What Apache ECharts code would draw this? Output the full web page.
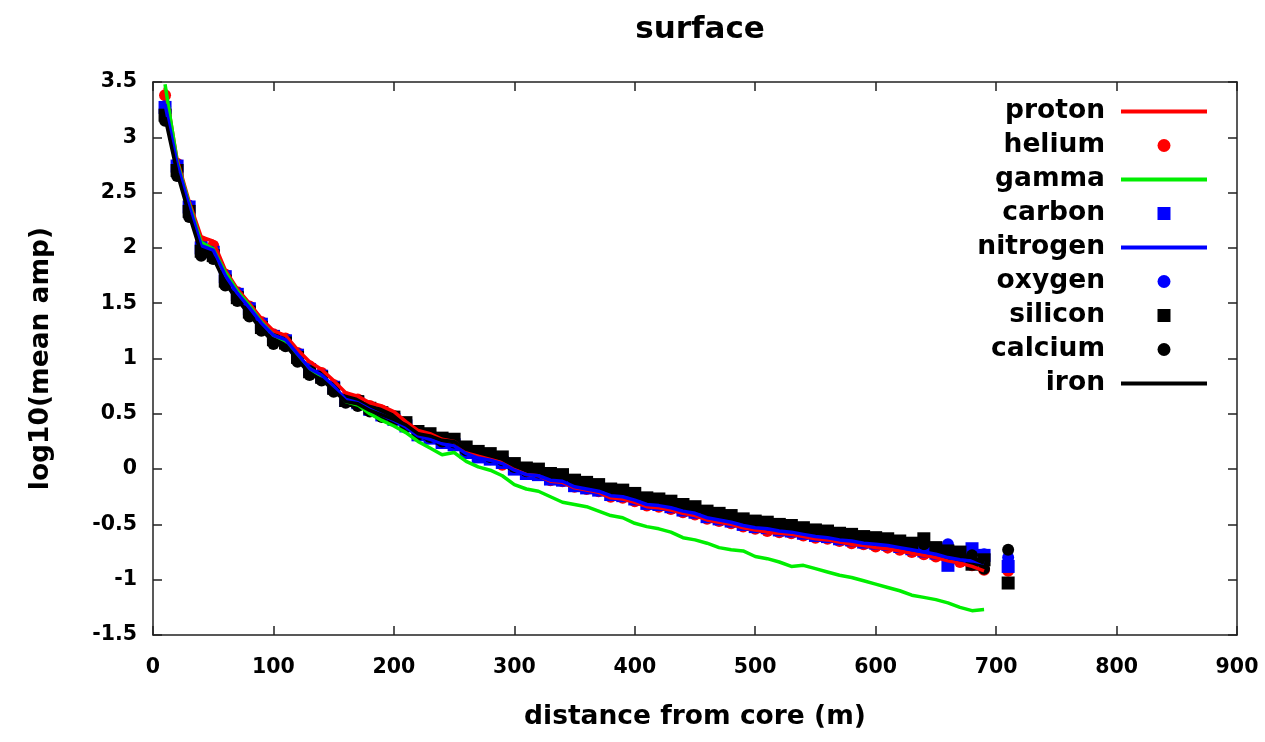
<!DOCTYPE html>
<html>
<head>
<meta charset="utf-8">
<script src="https://cdn.jsdelivr.net/npm/echarts@6/dist/echarts.min.js"></script>
<style>
  html, body { margin: 0; padding: 0; background: #fff; }
  #chart { width: 1265px; height: 742px; }
</style>
</head>
<body>
<div id="chart"></div>
<script>
// distance from core (m); 700 has no value
const distances = [10, 20, 30, 40, 50, 60, 70, 80, 90, 100, 110, 120, 130, 140, 150, 160, 170, 180, 190, 200,
  210, 220, 230, 240, 250, 260, 270, 280, 290, 300, 310, 320, 330, 340, 350, 360, 370, 380, 390, 400,
  410, 420, 430, 440, 450, 460, 470, 480, 490, 500, 510, 520, 530, 540, 550, 560, 570, 580, 590, 600,
  610, 620, 630, 640, 650, 660, 670, 680, 690, 700, 710];

const proton = [3.45, 2.80, 2.42, 2.10, 2.06, 1.80, 1.63, 1.50, 1.36, 1.25, 1.21, 1.08, 0.97, 0.90, 0.80, 0.69, 0.66, 0.60, 0.57, 0.52,
  0.43, 0.35, 0.32, 0.27, 0.25, 0.17, 0.12, 0.10, 0.06, 0.00, -0.05, -0.06, -0.11, -0.12, -0.17, -0.19, -0.21, -0.26, -0.27, -0.30,
  -0.34, -0.35, -0.37, -0.40, -0.42, -0.46, -0.48, -0.50, -0.53, -0.55, -0.57, -0.58, -0.59, -0.61, -0.63, -0.64, -0.66, -0.68, -0.69, -0.71,
  -0.72, -0.74, -0.76, -0.78, -0.80, -0.83, -0.85, -0.88, -0.92, null, null];

const helium = [3.38, 2.76, 2.38, 2.06, 2.02, 1.76, 1.60, 1.47, 1.33, 1.22, 1.18, 1.05, 0.93, 0.87, 0.76, 0.65, 0.63, 0.57, 0.53, 0.48,
  0.41, 0.33, 0.30, 0.25, 0.23, 0.15, 0.11, 0.09, 0.04, 0.01, -0.04, -0.05, -0.10, -0.11, -0.16, -0.18, -0.20, -0.25, -0.26, -0.29,
  -0.33, -0.34, -0.36, -0.39, -0.41, -0.45, -0.47, -0.49, -0.52, -0.54, -0.56, -0.57, -0.58, -0.60, -0.62, -0.63, -0.65, -0.67, -0.68, -0.70,
  -0.71, -0.73, -0.75, -0.77, -0.79, -0.82, -0.84, -0.87, -0.91, null, -0.92];

const gamma = [3.48, 2.78, 2.40, 2.05, 1.99, 1.78, 1.61, 1.48, 1.33, 1.21, 1.16, 1.03, 0.91, 0.84, 0.73, 0.61, 0.58, 0.50, 0.44, 0.39,
  0.33, 0.25, 0.19, 0.13, 0.15, 0.07, 0.02, -0.01, -0.06, -0.14, -0.18, -0.20, -0.25, -0.30, -0.32, -0.34, -0.38, -0.42, -0.44, -0.49,
  -0.52, -0.54, -0.57, -0.62, -0.64, -0.67, -0.71, -0.73, -0.74, -0.79, -0.81, -0.84, -0.88, -0.87, -0.90, -0.93, -0.96, -0.98, -1.01, -1.04,
  -1.07, -1.10, -1.14, -1.16, -1.18, -1.21, -1.25, -1.28, -1.27, null, null];

const carbon = [3.27, 2.74, 2.37, 2.00, 1.96, 1.74, 1.58, 1.45, 1.31, 1.20, 1.16, 1.03, 0.90, 0.84, 0.74, 0.62, 0.60, 0.54, 0.49, 0.45,
  0.39, 0.31, 0.28, 0.24, 0.22, 0.15, 0.11, 0.09, 0.06, 0.00, -0.04, -0.05, -0.09, -0.10, -0.15, -0.17, -0.19, -0.23, -0.24, -0.27,
  -0.31, -0.32, -0.34, -0.37, -0.39, -0.43, -0.45, -0.47, -0.50, -0.52, -0.53, -0.55, -0.56, -0.58, -0.60, -0.61, -0.63, -0.64, -0.66, -0.67,
  -0.68, -0.70, -0.72, -0.74, -0.76, -0.87, -0.80, -0.72, -0.78, null, -0.88];

const nitrogen = [3.30, 2.76, 2.38, 2.02, 1.98, 1.75, 1.59, 1.46, 1.32, 1.21, 1.17, 1.04, 0.91, 0.85, 0.75, 0.63, 0.60, 0.54, 0.49, 0.44,
  0.38, 0.30, 0.27, 0.23, 0.21, 0.14, 0.10, 0.08, 0.05, -0.01, -0.05, -0.06, -0.10, -0.11, -0.16, -0.18, -0.20, -0.24, -0.25, -0.28,
  -0.32, -0.33, -0.35, -0.38, -0.40, -0.44, -0.46, -0.48, -0.51, -0.53, -0.54, -0.56, -0.57, -0.59, -0.61, -0.62, -0.64, -0.65, -0.67, -0.68,
  -0.69, -0.71, -0.73, -0.75, -0.77, -0.80, -0.82, -0.83, -0.85, null, null];

const oxygen = [3.28, 2.75, 2.38, 2.01, 1.96, 1.74, 1.59, 1.46, 1.31, 1.21, 1.16, 1.04, 0.90, 0.85, 0.75, 0.63, 0.61, 0.55, 0.50, 0.45,
  0.40, 0.32, 0.29, 0.25, 0.23, 0.16, 0.12, 0.10, 0.06, 0.01, -0.03, -0.04, -0.08, -0.09, -0.14, -0.16, -0.18, -0.22, -0.23, -0.26,
  -0.30, -0.31, -0.33, -0.36, -0.38, -0.42, -0.44, -0.46, -0.49, -0.51, -0.52, -0.54, -0.55, -0.57, -0.59, -0.60, -0.62, -0.63, -0.65, -0.66,
  -0.67, -0.69, -0.71, -0.72, -0.75, -0.68, -0.80, -0.76, -0.77, null, -0.80];

const silicon = [3.20, 2.70, 2.33, 1.97, 1.93, 1.70, 1.55, 1.42, 1.28, 1.17, 1.14, 1.01, 0.88, 0.83, 0.73, 0.62, 0.61, 0.55, 0.51, 0.47,
  0.42, 0.34, 0.32, 0.28, 0.27, 0.20, 0.16, 0.14, 0.11, 0.05, 0.01, 0.00, -0.04, -0.05, -0.10, -0.12, -0.14, -0.18, -0.19, -0.22,
  -0.26, -0.27, -0.29, -0.32, -0.34, -0.38, -0.40, -0.42, -0.45, -0.47, -0.48, -0.50, -0.51, -0.53, -0.55, -0.56, -0.58, -0.59, -0.61, -0.62,
  -0.63, -0.65, -0.67, -0.63, -0.71, -0.74, -0.75, -0.86, -0.82, null, -1.03];

const calcium = [3.15, 2.65, 2.28, 1.93, 1.90, 1.66, 1.52, 1.38, 1.25, 1.13, 1.11, 0.97, 0.85, 0.80, 0.70, 0.60, 0.57, 0.52, 0.47, 0.44,
  0.38, 0.31, 0.29, 0.25, 0.24, 0.17, 0.14, 0.11, 0.08, 0.02, -0.02, -0.03, -0.06, -0.08, -0.12, -0.14, -0.16, -0.20, -0.21, -0.24,
  -0.27, -0.29, -0.31, -0.34, -0.36, -0.39, -0.41, -0.44, -0.46, -0.48, -0.50, -0.52, -0.53, -0.55, -0.56, -0.58, -0.60, -0.61, -0.63, -0.64,
  -0.65, -0.67, -0.69, -0.68, -0.73, -0.77, -0.80, -0.78, -0.90, null, -0.73];

const iron = [3.18, 2.68, 2.30, 1.95, 1.91, 1.68, 1.53, 1.40, 1.26, 1.15, 1.12, 0.99, 0.86, 0.81, 0.71, 0.61, 0.59, 0.53, 0.49, 0.45,
  0.40, 0.32, 0.30, 0.26, 0.25, 0.18, 0.15, 0.12, 0.09, 0.03, -0.01, -0.02, -0.05, -0.07, -0.11, -0.13, -0.15, -0.19, -0.20, -0.23,
  -0.27, -0.28, -0.30, -0.33, -0.35, -0.39, -0.41, -0.43, -0.46, -0.48, -0.49, -0.51, -0.52, -0.54, -0.56, -0.57, -0.59, -0.60, -0.62, -0.63,
  -0.64, -0.66, -0.68, -0.66, -0.72, -0.76, -0.78, -0.80, -0.85, null, null];

const font = 'DejaVu Sans';
const pairs = arr => distances.map((d, i) => [d, arr[i]]);

// legend icons (keep aspect inside the 86x13 item box)
const iconLine = 'path://M0,0L86,0L86,4L0,4Z';
const iconSquare = 'path://M0,0L13,0L13,13L0,13Z';
const iconCircle = 'path://M0,6.5A6.5,6.5,0,1,0,13,6.5A6.5,6.5,0,1,0,0,6.5Z';

const lineSeries = (name, arr, color) => ({
  name: name,
  type: 'line',
  data: pairs(arr),
  symbol: 'none',
  showSymbol: false,
  connectNulls: false,
  lineStyle: { color: color, width: 3.5 },
  itemStyle: { color: color }
});

const pointSeries = (name, arr, color, symbol) => ({
  name: name,
  type: 'scatter',
  data: pairs(arr),
  symbol: symbol,
  symbolSize: symbol === 'rect' ? 13 : 12,
  itemStyle: { color: color, opacity: 1 }
});

const chart = echarts.init(document.getElementById('chart'));

const axisLine = { show: true, onZero: false, lineStyle: { color: '#222', width: 1.5 } };
const tickStyle = { show: true, inside: true, length: 9, lineStyle: { color: '#222', width: 1.5 } };
const tickLabel = { fontFamily: font, fontWeight: 'bold', fontSize: 20.5, color: '#000' };
const nameStyle = { fontFamily: font, fontWeight: 'bold', fontSize: 26.5, color: '#000' };

chart.setOption({
  animation: false,
  backgroundColor: '#fff',
  title: {
    text: 'surface',
    left: 695,
    top: 9,
    textAlign: 'center',
    textStyle: { fontFamily: font, fontWeight: 'bold', fontSize: 31, color: '#000' }
  },
  grid: { left: 153, right: 28, top: 82, bottom: 107, containLabel: false },
  legend: {
    orient: 'vertical',
    right: 53,
    top: 93,
    align: 'right',
    itemWidth: 86,
    itemHeight: 13,
    itemGap: 7,
    selectedMode: false,
    textStyle: { fontFamily: font, fontWeight: 'bold', fontSize: 26.5, color: '#000', lineHeight: 26, padding: [0, 11, 0, 0] },
    data: [
      { name: 'proton', icon: iconLine },
      { name: 'helium', icon: iconCircle },
      { name: 'gamma', icon: iconLine },
      { name: 'carbon', icon: iconSquare },
      { name: 'nitrogen', icon: iconLine },
      { name: 'oxygen', icon: iconCircle },
      { name: 'silicon', icon: iconSquare },
      { name: 'calcium', icon: iconCircle },
      { name: 'iron', icon: iconLine }
    ]
  },
  xAxis: [{
    type: 'value',
    min: 0, max: 900, interval: 100,
    position: 'bottom',
    name: 'distance from core (m)',
    nameLocation: 'middle',
    nameGap: 69,
    nameTextStyle: nameStyle,
    axisLine: axisLine,
    axisTick: tickStyle,
    axisLabel: Object.assign({ margin: 22 }, tickLabel),
    splitLine: { show: false }
  }, {
    type: 'value',
    min: 0, max: 900, interval: 100,
    position: 'top',
    axisLine: axisLine,
    axisTick: tickStyle,
    axisLabel: { show: false },
    splitLine: { show: false }
  }],
  yAxis: [{
    type: 'value',
    min: -1.5, max: 3.5, interval: 0.5,
    position: 'left',
    name: 'log10(mean amp)',
    nameLocation: 'middle',
    nameGap: 98,
    nameTextStyle: nameStyle,
    axisLine: axisLine,
    axisTick: tickStyle,
    axisLabel: Object.assign({ margin: 16 }, tickLabel),
    splitLine: { show: false }
  }, {
    type: 'value',
    min: -1.5, max: 3.5, interval: 0.5,
    position: 'right',
    axisLine: axisLine,
    axisTick: tickStyle,
    axisLabel: { show: false },
    splitLine: { show: false }
  }],
  series: [
    lineSeries('proton', proton, '#ff0000'),
    pointSeries('helium', helium, '#ff0000', 'circle'),
    lineSeries('gamma', gamma, '#00ee00'),
    pointSeries('carbon', carbon, '#0000ff', 'rect'),
    lineSeries('nitrogen', nitrogen, '#0000ff'),
    pointSeries('oxygen', oxygen, '#0000ff', 'circle'),
    pointSeries('silicon', silicon, '#000000', 'rect'),
    pointSeries('calcium', calcium, '#000000', 'circle'),
    lineSeries('iron', iron, '#000000')
  ]
});
</script>
</body>
</html>
